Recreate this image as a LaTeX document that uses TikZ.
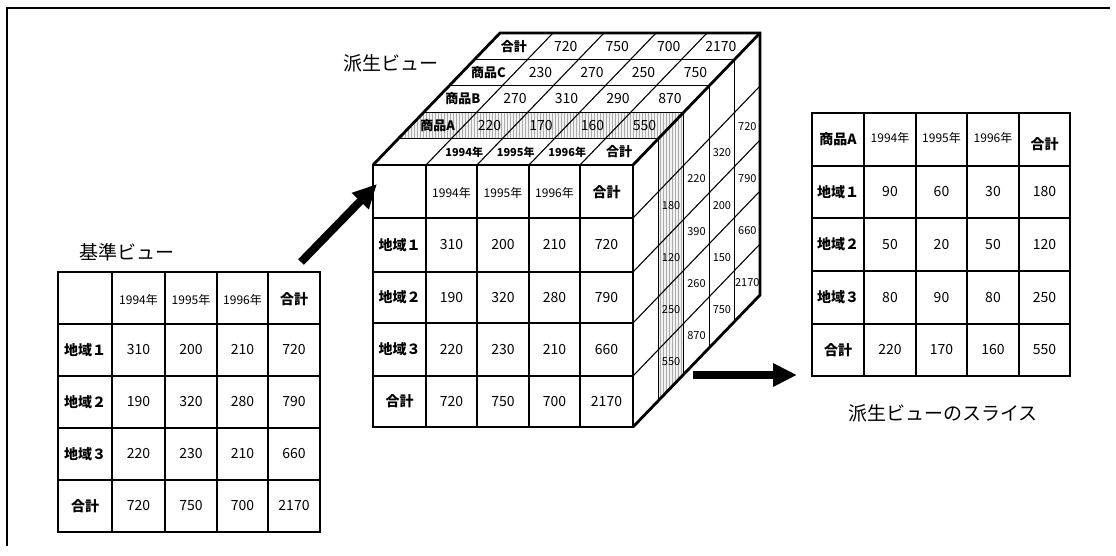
\documentclass[tikz,border=0pt]{standalone}
\usepackage{fontspec}
\setmainfont{Noto Sans CJK JP}
\usetikzlibrary{arrows.meta,patterns}
\begin{document}
\begin{tikzpicture}[x=1pt,y=-1pt,
  lab/.style={font=\fontsize{14}{16}\selectfont\bfseries, inner sep=0pt},
  num/.style={font=\fontsize{14}{16}\selectfont, inner sep=0pt},
  yr/.style={font=\fontsize{12}{14}\selectfont, inner sep=0pt},
  tlab/.style={font=\fontsize{13}{15}\selectfont\bfseries, inner sep=0pt},
  tnum/.style={font=\fontsize{14}{16}\selectfont, inner sep=0pt},
  tyr/.style={font=\fontsize{11}{13}\selectfont\bfseries, inner sep=0pt},
  snum/.style={font=\fontsize{11}{13}\selectfont, inner sep=0pt},
  title/.style={font=\fontsize{19}{22}\selectfont, inner sep=0pt},
  inner/.style={line width=1.3pt},
  thin/.style={line width=1.1pt},
  outer/.style={line width=2.8pt, line join=miter},
  bigarrow/.style={line width=8pt, -{Triangle[length=24pt,width=22pt]}},
  shade/.style={pattern=vertical lines, pattern color=gray!65}
]
\useasboundingbox (0,0) rectangle (1116,556);
% outer frame
\draw[line width=1.2pt] (7,546) -- (7,8) -- (1110,8);

% ---------------- left table (基準ビュー)
\node[title] (lblA) at (127,252) {基準ビュー};
\foreach \x in {112,165,217,268} \draw[inner] (\x,272) -- (\x,532);
\foreach \y in {324,376,428,480} \draw[inner] (58,\y) -- (320,\y);
\draw[outer] (58,272) rectangle (320,532);
\foreach \x/\t [count=\i] in {138.5/1994年,191/1995年,242.5/1996年}
  \node[yr] (Lh\i) at (\x,300) {\t};
\node[lab] (Lh4) at (294,299) {合計};
\foreach \y/\a/\b/\c/\d/\e [count=\i] in {350/地域１/310/200/210/720,402/地域２/190/320/280/790,454/地域３/220/230/210/660,506/合計/720/750/700/2170}{
  \node[lab] (L\i-a) at (85,\y) {\a};
  \node[num] (L\i-b) at (138.5,\y) {\b};
  \node[num] (L\i-c) at (191,\y) {\c};
  \node[num] (L\i-d) at (242.5,\y) {\d};
  \node[num] (L\i-e) at (294,\y) {\e};
}

% ---------------- cube (派生ビュー)
\node[title] (lblB) at (391,63) {派生ビュー};
% shaded slice (商品A)
\fill[gray!10] (398.4,138.6) -- (658.4,138.6) -- (683.8,112.2) -- (423.8,112.2) -- cycle;
\fill[shade] (398.4,138.6) -- (658.4,138.6) -- (683.8,112.2) -- (423.8,112.2) -- cycle;
\fill[gray!10] (658.4,138.6) -- (683.8,112.2) -- (683.8,374.2) -- (658.4,400.6) -- cycle;
\fill[shade] (658.4,138.6) -- (683.8,112.2) -- (683.8,374.2) -- (658.4,400.6) -- cycle;
% front face grid
\foreach \x in {426,477,529,580} \draw[inner] (\x,165) -- (\x,427);
\foreach \y in {218,272,323,376} \draw[inner] (373,\y) -- (633,\y);
% top face grid
\foreach \k in {1,2,3,4}
  \draw[thin] ({373+25.4*\k},{165-26.4*\k}) -- ({633+25.4*\k},{165-26.4*\k});
\foreach \x in {426,477,529,580} \draw[thin] (\x,165) -- ({\x+127},33);
% right face grid
\foreach \k in {1,2,3,4}
  \draw[thin] ({633+25.4*\k},{165-26.4*\k}) -- ({633+25.4*\k},{427-26.4*\k});
\foreach \y in {218,272,323,376} \draw[thin] (633,\y) -- (760,{\y-132});
% outer edges
\draw[outer] (373,165) rectangle (633,427);
\draw[outer] (373,165) -- (500,33) -- (760,33) -- (760,295) -- (633,427);
\draw[outer] (633,165) -- (760,33);

% front face text
\foreach \x/\t [count=\i] in {451.5/1994年,503/1995年,554.5/1996年}
  \node[yr] (Fh\i) at (\x,193) {\t};
\node[lab] (Fh4) at (606.5,192) {合計};
\foreach \y/\a/\b/\c/\d/\e [count=\i] in {245/地域１/310/200/210/720,297.5/地域２/190/320/280/790,349.5/地域３/220/230/210/660,401.5/合計/720/750/700/2170}{
  \node[lab] (F\i-a) at (399.5,\y) {\a};
  \node[num] (F\i-b) at (451.5,\y) {\b};
  \node[num] (F\i-c) at (503,\y) {\c};
  \node[num] (F\i-d) at (554.5,\y) {\d};
  \node[num] (F\i-e) at (606.5,\y) {\e};
}
% top face text
\foreach \x/\t [count=\i] in {451.5/1994年,503/1995年,554.5/1996年}
  \node[tyr] (T0-\i) at ({\x+12.7},151.8) {\t};
\node[tlab] (T0-4) at ({606.5+12.7},151.8) {合計};
\foreach \j/\a/\b/\c/\d/\e in {1/商品A/220/170/160/550,2/商品B/270/310/290/870,3/商品C/230/270/250/750,4/合計/720/750/700/2170}{
  \node[tlab] (T\j-a) at ({399.5+25.4*(\j+0.5)},{165-26.4*(\j+0.5)}) {\a};
  \node[tnum] (T\j-b) at ({451.5+25.4*(\j+0.5)},{165-26.4*(\j+0.5)}) {\b};
  \node[tnum] (T\j-c) at ({503+25.4*(\j+0.5)},{165-26.4*(\j+0.5)}) {\c};
  \node[tnum] (T\j-d) at ({554.5+25.4*(\j+0.5)},{165-26.4*(\j+0.5)}) {\d};
  \node[tnum] (T\j-e) at ({606.5+25.4*(\j+0.5)},{165-26.4*(\j+0.5)}) {\e};
}
% right face text
\foreach \j/\p/\q/\r/\s in {1/180/120/250/550,2/220/390/260/870,3/320/200/150/750,4/720/790/660/2170}{
  \node[snum] (R\j-a) at ({633+25.4*(\j+0.5)},{245-26.4*(\j+0.5)}) {\p};
  \node[snum] (R\j-b) at ({633+25.4*(\j+0.5)},{297.5-26.4*(\j+0.5)}) {\q};
  \node[snum] (R\j-c) at ({633+25.4*(\j+0.5)},{349.5-26.4*(\j+0.5)}) {\r};
  \node[snum] (R\j-d) at ({633+25.4*(\j+0.5)},{401.5-26.4*(\j+0.5)}) {\s};
}

% ---------------- right table (スライス)
\node[title] (lblC) at (943,413) {派生ビューのスライス};
\foreach \x in {864,916,967,1019} \draw[inner] (\x,113) -- (\x,376);
\foreach \y in {166,218,271,324} \draw[inner] (812,\y) -- (1070,\y);
\draw[outer] (812,113) rectangle (1070,376);
\node[lab] (Sh0) at (838,139.5) {商品A};
\foreach \x/\t [count=\i] in {890/1994年,941.5/1995年,993/1996年}
  \node[yr] (Sh\i) at (\x,138) {\t};
\node[lab] (Sh4) at (1044.5,144) {合計};
\foreach \y/\a/\b/\c/\d/\e [count=\i] in {192/地域１/90/60/30/180,244.5/地域２/50/20/50/120,297.5/地域３/80/90/80/250,350/合計/220/170/160/550}{
  \node[lab] (S\i-a) at (838,\y) {\a};
  \node[num] (S\i-b) at (890,\y) {\b};
  \node[num] (S\i-c) at (941.5,\y) {\c};
  \node[num] (S\i-d) at (993,\y) {\d};
  \node[num] (S\i-e) at (1044.5,\y) {\e};
}

% ---------------- arrows
\coordinate (a1s) at (301,262);
\coordinate (a1e) at (377,184);
\draw[bigarrow] (a1s) -- (a1e);
\coordinate (a2s) at (693,375);
\coordinate (a2e) at (797,375);
\draw[bigarrow] (a2s) -- (a2e);
\end{tikzpicture}
\end{document}
